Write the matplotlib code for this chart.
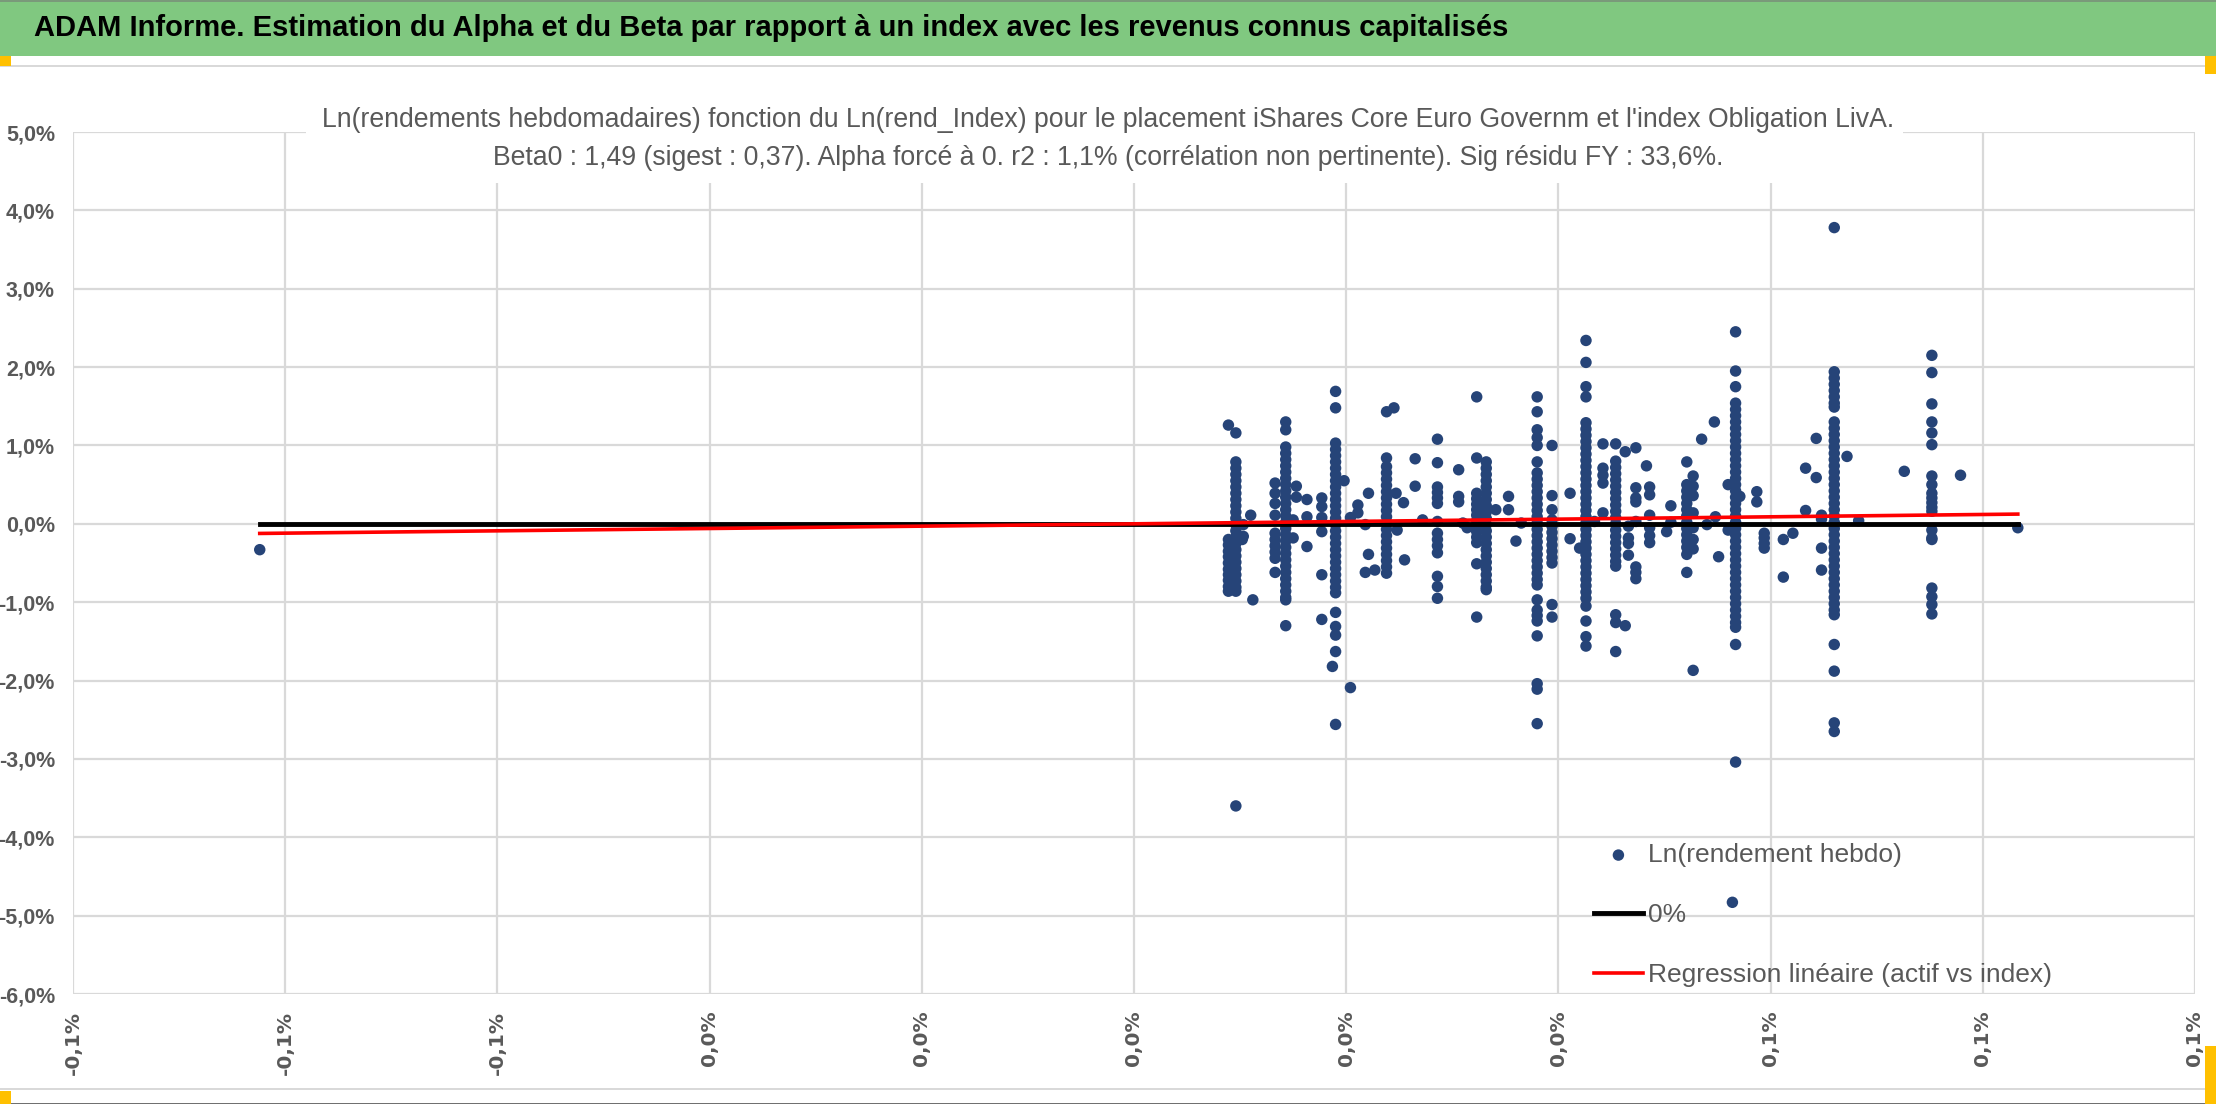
import matplotlib
matplotlib.use("Agg")
import matplotlib.pyplot as plt
from matplotlib.patches import Rectangle
from matplotlib.ticker import FuncFormatter, MultipleLocator

# weekly log-returns, in %: index (x) vs fund (y), grouped by index value
col_x = [-0.0824, 0.0089, 0.0096, 0.0102, 0.0103, 0.0110, 0.0112, 0.0133, 0.0143,
         0.0150, 0.0153, 0.0163, 0.0177, 0.0187, 0.0190, 0.0198, 0.0204, 0.0211,
         0.0218, 0.0221, 0.0227, 0.0238, 0.0245, 0.0247, 0.0248, 0.0254, 0.0255,
         0.0265, 0.0272, 0.0286, 0.0306, 0.0310, 0.0314, 0.0323, 0.0332, 0.0341,
         0.0353, 0.0360, 0.0365, 0.0380, 0.0394, 0.0411, 0.0420, 0.0426, 0.0434,
         0.0442, 0.0454, 0.0463, 0.0466, 0.0473, 0.0483, 0.0486, 0.0502, 0.0506,
         0.0521, 0.0527, 0.0535, 0.0540, 0.0547, 0.0548, 0.0551, 0.0560, 0.0564,
         0.0567, 0.0571, 0.0587, 0.0594, 0.0612, 0.0621, 0.0633, 0.0643, 0.0648,
         0.0660, 0.0672, 0.0683, 0.0726, 0.0752, 0.0779, 0.0833]

col_y = [
    [-0.33],
    [1.26, -0.20, -0.27, -0.35, -0.42, -0.50, -0.58, -0.65, -0.72, -0.80, -0.86],
    [1.16, 0.79, 0.71, 0.63, 0.55, 0.47, 0.39, 0.31, 0.23, 0.15, 0.07, -0.01, -0.09,
     -0.17, -0.25, -0.33, -0.41, -0.49, -0.57, -0.65, -0.73, -0.81, -0.86, -3.60],
    [-0.20],
    [-0.01, -0.16],
    [0.11],
    [-0.97],
    [0.52, 0.39, 0.26, 0.11, -0.12, -0.20, -0.28, -0.36, -0.44, -0.62],
    [1.30, 1.20, 0.98, 0.90, 0.82, 0.74, 0.66, 0.58, 0.50, 0.42, 0.34, 0.26, 0.18,
     0.10, 0.02, -0.06, -0.14, -0.22, -0.30, -0.38, -0.46, -0.54, -0.62, -0.70,
     -0.78, -0.86, -0.94, -0.97, -1.30],
    [0.05, -0.18],
    [0.48, 0.34],
    [0.31, 0.09, -0.29],
    [0.33, 0.22, 0.08, -0.10, -0.65, -1.22],
    [-1.82],
    [1.69, 1.48, 1.03, 0.95, 0.87, 0.79, 0.71, 0.63, 0.55, 0.47, 0.39, 0.31, 0.23,
     0.15, 0.07, -0.01, -0.09, -0.17, -0.25, -0.33, -0.41, -0.49, -0.57, -0.65,
     -0.73, -0.81, -0.88, -1.13, -1.31, -1.42, -1.63, -2.56],
    [0.55],
    [0.08, -2.09],
    [0.24, 0.14],
    [-0.01, -0.62],
    [0.39, -0.39],
    [-0.59],
    [1.43, 0.84, 0.73, 0.65, 0.57, 0.49, 0.41, 0.33, 0.25, 0.17, 0.09, 0.01, -0.07,
     -0.15, -0.23, -0.31, -0.39, -0.47, -0.55, -0.63],
    [1.48],
    [0.39],
    [-0.08],
    [0.27],
    [-0.46],
    [0.83, 0.48],
    [0.05],
    [1.08, 0.78, 0.47, 0.40, 0.33, 0.26, 0.03, -0.12, -0.20, -0.28, -0.37, -0.67,
     -0.80, -0.95],
    [0.69, 0.35, 0.28],
    [0.01],
    [-0.05],
    [1.62, 0.84, 0.39, 0.32, 0.25, 0.18, 0.11, 0.04, -0.03, -0.10, -0.17, -0.24,
     -0.51, -1.19],
    [0.79, 0.71, 0.63, 0.55, 0.47, 0.39, 0.31, 0.23, 0.15, 0.07, -0.01, -0.09,
     -0.17, -0.25, -0.33, -0.41, -0.49, -0.57, -0.65, -0.73, -0.81, -0.84],
    [0.18],
    [0.35, 0.18],
    [-0.22],
    [0.01],
    [1.62, 1.43, 1.20, 1.10, 1.00, 0.79, 0.65, 0.57, 0.49, 0.41, 0.33, 0.25, 0.17,
     0.09, 0.01, -0.07, -0.15, -0.23, -0.31, -0.39, -0.47, -0.55, -0.63, -0.71,
     -0.78, -0.97, -1.10, -1.17, -1.24, -1.43, -2.04, -2.11, -2.55],
    [1.00, 0.36, 0.18, 0.05, -0.03, -0.11, -0.19, -0.27, -0.35, -0.43, -0.50,
     -1.03, -1.19],
    [0.39, -0.19],
    [-0.31],
    [2.34, 2.06, 1.75, 1.62, 1.29, 1.21, 1.13, 1.05, 0.97, 0.89, 0.81, 0.73, 0.65,
     0.57, 0.49, 0.41, 0.33, 0.25, 0.17, 0.09, 0.01, -0.07, -0.15, -0.23, -0.31,
     -0.39, -0.47, -0.55, -0.63, -0.71, -0.79, -0.87, -0.95, -1.05, -1.24, -1.44,
     -1.56],
    [0.03],
    [1.02, 0.71, 0.62, 0.52, 0.14],
    [1.02, 0.80, 0.72, 0.64, 0.56, 0.48, 0.40, 0.32, 0.24, 0.16, 0.08, 0.00, -0.08,
     -0.16, -0.24, -0.32, -0.40, -0.48, -0.54, -1.16, -1.26, -1.63],
    [0.92, -1.30],
    [-0.03, -0.18, -0.25, -0.40],
    [0.97, 0.46, 0.33, 0.28, 0.03, -0.55, -0.62, -0.70],
    [0.74],
    [0.47, 0.37, 0.11, -0.05, -0.15, -0.24],
    [-0.10],
    [0.23, 0.02],
    [0.79, 0.50, 0.42, 0.34, 0.26, 0.18, 0.10, 0.02, -0.06, -0.14, -0.22, -0.30,
     -0.39, -0.62],
    [0.61, 0.48, 0.36, 0.14, -0.05, -0.20, -0.32, -1.87],
    [1.08],
    [-0.01],
    [1.30],
    [0.09],
    [-0.42],
    [0.50, -0.08],
    [-4.83],
    [2.45, 1.95, 1.75, 1.54, 1.46, 1.38, 1.30, 1.22, 1.14, 1.06, 0.98, 0.90, 0.82,
     0.74, 0.66, 0.58, 0.50, 0.42, 0.34, 0.26, 0.18, 0.10, 0.02, -0.06, -0.14,
     -0.22, -0.30, -0.38, -0.46, -0.54, -0.62, -0.70, -0.78, -0.86, -0.94, -1.02,
     -1.10, -1.18, -1.26, -1.32, -1.54, -3.04],
    [0.35],
    [0.41, 0.28],
    [-0.12, -0.18, -0.25, -0.31],
    [-0.20, -0.68],
    [-0.12],
    [0.71, 0.17],
    [0.59, 1.09],
    [0.11, 0.06, -0.31, -0.59],
    [3.78, 1.94, 1.86, 1.78, 1.70, 1.62, 1.54, 1.49, 1.30, 1.22, 1.14, 1.06, 0.98,
     0.90, 0.82, 0.74, 0.66, 0.58, 0.50, 0.42, 0.34, 0.26, 0.18, 0.10, 0.02, -0.06,
     -0.14, -0.22, -0.30, -0.38, -0.46, -0.54, -0.62, -0.70, -0.78, -0.86, -0.94,
     -1.02, -1.10, -1.16, -1.54, -1.88, -2.54, -2.65],
    [0.86],
    [0.04],
    [0.67],
    [2.15, 1.93, 1.53, 1.30, 1.16, 1.01, 0.61, 0.50, 0.39, 0.33, 0.27, 0.21, 0.16,
     -0.08, -0.18, -0.20, -0.82, -0.93, -1.03, -1.15],
    [0.62],
    [-0.05],
]

beta0 = 1.49

header = "ADAM Informe. Estimation du Alpha et du Beta par rapport à un index avec les revenus connus capitalisés"
subtitle = ("Ln(rendements hebdomadaires) fonction du Ln(rend_Index) pour le placement iShares Core Euro Governm et l'index Obligation LivA.\n"
            "Beta0 : 1,49 (sigest : 0,37). Alpha forcé à 0. r2 : 1,1% (corrélation non pertinente). Sig résidu FY : 33,6%.")
legend_labels = ["Ln(rendement hebdo)", "0%", "Regression linéaire (actif vs index)"]

sans = ["Liberation Sans", "DejaVu Sans"]
grey = "#595959"

xs, ys = [], []
for x, yl in zip(col_x, col_y):
    for y in yl:
        xs.append(x)
        ys.append(y)
x_lo, x_hi = min(col_x), max(col_x)

W, H = 2216, 1104
fig = plt.figure(figsize=(W / 100, H / 100), dpi=100)
fig.patch.set_facecolor("white")

ax = fig.add_axes([73 / W, 1 - 994 / H, (2195 - 73) / W, (994 - 132) / H])
ax.scatter(xs, ys, s=68, color="#264478", edgecolors="none", zorder=3,
           label=legend_labels[0])
ax.plot([x_lo, x_hi], [0, 0], color="black", lw=3.5, zorder=4,
        label=legend_labels[1])
ax.plot([x_lo, x_hi], [beta0 * x_lo, beta0 * x_hi], color="#ff0000", lw=2.6,
        zorder=5, label=legend_labels[2])

ax.set_xlim(-0.1, 0.1)
ax.set_ylim(-6, 5)
ax.xaxis.set_major_locator(MultipleLocator(0.02))
ax.yaxis.set_major_locator(MultipleLocator(1))


def pct(v, pos):
    v = round(v, 1) + 0.0
    return f"{v:.1f}%".replace(".", ",")


ax.xaxis.set_major_formatter(FuncFormatter(pct))
ax.yaxis.set_major_formatter(FuncFormatter(pct))
ax.grid(True, color="#d9d9d9", lw=1.6)
ax.set_axisbelow(True)
for s in ax.spines.values():
    s.set_visible(False)
ax.tick_params(length=0)
ax.tick_params(axis="x", pad=12)
ax.tick_params(axis="y", pad=13)
for lab in ax.get_xticklabels():
    lab.set_rotation(90)
    lab.set_va("top")
    lab.set_ha("center")
    lab.set_fontfamily("DejaVu Sans")
    lab.set_fontweight("bold")
    lab.set_fontsize(14.5)
    lab.set_color(grey)
for lab in ax.get_yticklabels():
    lab.set_fontfamily(sans)
    lab.set_fontweight("bold")
    lab.set_fontsize(15.5)
    lab.set_color(grey)

leg = ax.legend(loc="upper left", bbox_to_anchor=(1594 / W, 1 - 843 / H),
                bbox_transform=fig.transFigure, frameon=False, borderpad=0,
                borderaxespad=0, handlelength=1.85, handletextpad=0.2,
                labelspacing=1.36, prop={"family": sans, "size": 19},
                markerscale=1.0)
for t in leg.get_texts():
    t.set_color(grey)

# header band and chart frame decorations
fig.add_artist(Rectangle((0, 1 - 56 / H), 1, 56 / H, transform=fig.transFigure,
                         facecolor="#80c880", edgecolor="none", zorder=1))
fig.add_artist(Rectangle((0, 1 - 2 / H), 1, 2 / H, transform=fig.transFigure,
                         facecolor="#7a9a7a", edgecolor="none", zorder=1))
fig.add_artist(Rectangle((0, 1 - 67 / H), 1, 2 / H, transform=fig.transFigure,
                         facecolor="#d9d9d9", edgecolor="none", zorder=1))
fig.add_artist(Rectangle((0, 1 - 1090 / H), 1, 2 / H, transform=fig.transFigure,
                         facecolor="#d9d9d9", edgecolor="none", zorder=1))
fig.add_artist(Rectangle((0, 0), 1, 1 / H, transform=fig.transFigure,
                         facecolor="#707070", edgecolor="none", zorder=1))
for (x0, y0, w, h) in [(0, 56, 11, 10), (2205, 56, 11, 18), (0, 1091, 11, 13),
                       (2205, 1046, 11, 58)]:
    fig.add_artist(Rectangle((x0 / W, 1 - (y0 + h) / H), w / W, h / H,
                             transform=fig.transFigure, facecolor="#ffc000",
                             edgecolor="none", zorder=2))
fig.add_artist(Rectangle((306 / W, 1 - 183 / H), (1903 - 306) / W, (183 - 95) / H,
                         transform=fig.transFigure, facecolor="white",
                         edgecolor="none", zorder=1))

fig.text(34 / W, 1 - 28 / H, header, ha="left", va="center", fontsize=21,
         fontweight="bold", family=sans, color="black", zorder=3)
fig.text(0.5, 1 - 139 / H, subtitle, ha="center", va="center", fontsize=19.2,
         family=sans, color=grey, linespacing=1.6, zorder=3)

fig.savefig("out.png", dpi=100)
